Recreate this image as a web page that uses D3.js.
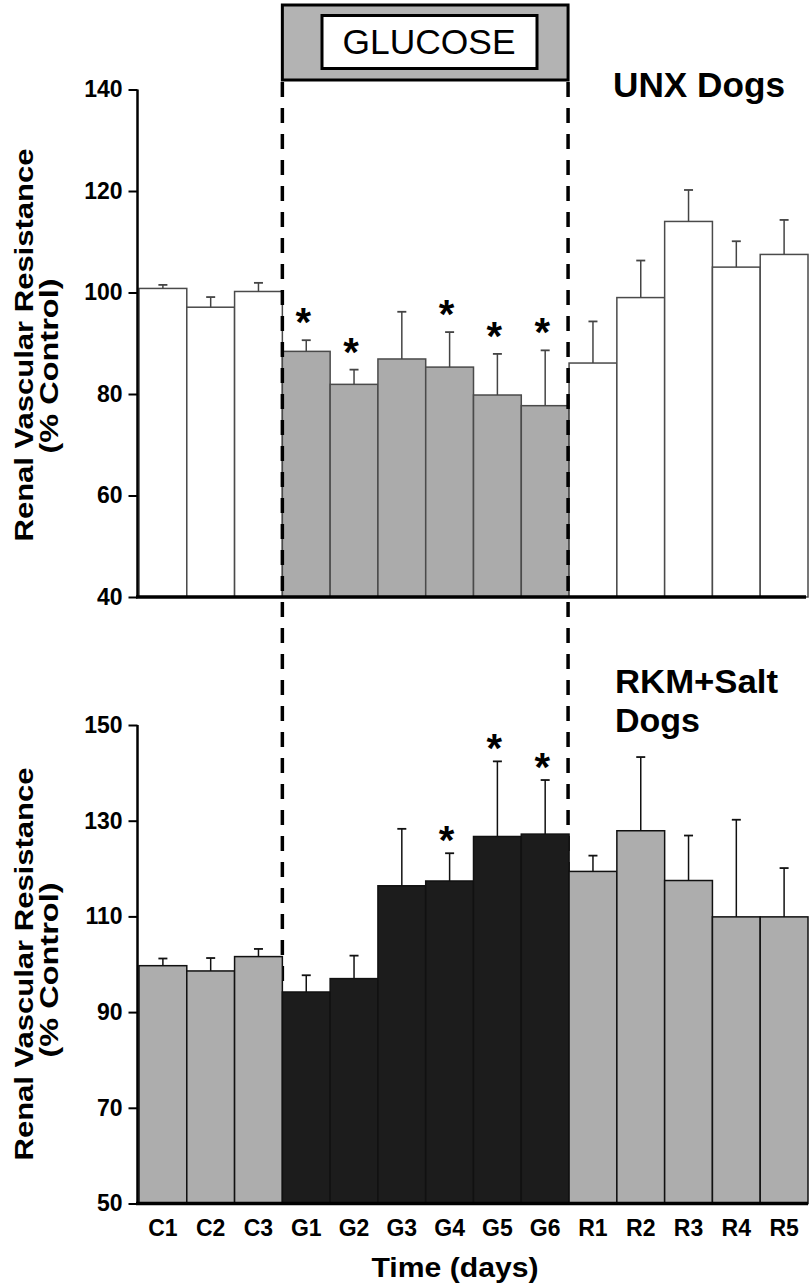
<!DOCTYPE html>
<html>
<head>
<meta charset="utf-8">
<script src="https://cdn.jsdelivr.net/npm/d3@7"></script>
<style>
  html, body { margin: 0; padding: 0; background: #fff; }
  svg { display: block; }
  text { font-family: "Liberation Sans", Arial, Helvetica, sans-serif; }
</style>
</head>
<body>
<svg id="chart" width="812" height="1285"></svg>
<script>
// ---------- data ----------
const categories = ["C1","C2","C3","G1","G2","G3","G4","G5","G6","R1","R2","R3","R4","R5"];
const glucoseDays = ["G1","G2","G3","G4","G5","G6"];

const unxMean = [100.8, 97.1, 100.2, 88.4, 81.9, 86.9, 85.3, 79.8, 77.7, 86.1, 99.0, 114.0, 105.0, 107.5];
const unxErr  = [0.7, 2.0, 1.7, 2.2, 2.9, 9.3, 6.9, 8.1, 10.9, 8.2, 7.3, 6.2, 5.1, 6.8];
const unxSig  = [0,0,0,1,1,0,1,1,1,0,0,0,0,0];

const rkmMean = [99.7, 98.6, 101.6, 94.2, 97.0, 116.4, 117.4, 126.7, 127.2, 119.4, 127.9, 117.5, 109.9, 109.9];
const rkmErr  = [1.5, 2.7, 1.6, 3.5, 4.8, 11.9, 5.8, 15.7, 11.3, 3.3, 15.4, 9.4, 20.3, 10.2];
const rkmSig  = [0,0,0,0,0,0,1,1,1,0,0,0,0,0];

const unxTicks = [40, 60, 80, 100, 120, 140];
const rkmTicks = [50, 70, 90, 110, 130, 150];

const yLabel1 = "Renal Vascular Resistance";
const yLabel2 = "(% Control)";
const xLabel = "Time (days)";
const boxLabel = "GLUCOSE";
const title1 = "UNX Dogs";
const title2a = "RKM+Salt";
const title2b = "Dogs";

// ---------- setup ----------
const svg = d3.select("#chart");
const FONT = '"Liberation Sans", Arial, Helvetica, sans-serif';

const x = d3.scaleBand().domain(categories).range([139, 808]).padding(0);
const yTop = d3.scaleLinear().domain([40, 140]).range([597, 89.5]);
const yBot = d3.scaleLinear().domain([50, 150]).range([1203.5, 725]);

function isG(c) { return glucoseDays.includes(c); }

const topRows = categories.map((c, i) => ({ c, m: unxMean[i], e: unxErr[i], s: unxSig[i] }));
const botRows = categories.map((c, i) => ({ c, m: rkmMean[i], e: rkmErr[i], s: rkmSig[i] }));

// ---------- top panel bars ----------
const gTop = svg.append("g");
gTop.selectAll("rect.bar").data(topRows).join("rect")
  .attr("x", d => x(d.c))
  .attr("y", d => yTop(d.m))
  .attr("width", x.bandwidth())
  .attr("height", d => yTop(40) - yTop(d.m))
  .attr("fill", d => isG(d.c) ? "#ababab" : "#ffffff")
  .attr("stroke", "#4a4a4a")
  .attr("stroke-width", 1.5);

function errBars(g, rows, y, color) {
  g.selectAll("line.err").data(rows).join("line")
    .attr("x1", d => x(d.c) + x.bandwidth() / 2)
    .attr("x2", d => x(d.c) + x.bandwidth() / 2)
    .attr("y1", d => y(d.m))
    .attr("y2", d => y(d.m + d.e))
    .attr("stroke", color).attr("stroke-width", 1.5);
  g.selectAll("line.cap").data(rows).join("line")
    .attr("x1", d => x(d.c) + x.bandwidth() / 2 - 4.5)
    .attr("x2", d => x(d.c) + x.bandwidth() / 2 + 4.5)
    .attr("y1", d => y(d.m + d.e))
    .attr("y2", d => y(d.m + d.e))
    .attr("stroke", color).attr("stroke-width", 1.8);
}
errBars(gTop.append("g"), topRows, yTop, "#444");

function stars(g, rows, y, off) {
  g.selectAll("text").data(rows.filter(d => d.s)).join("text")
    .attr("x", d => x(d.c) + x.bandwidth() / 2 - 3)
    .attr("y", d => y(d.m + d.e) - off + 23)
    .attr("text-anchor", "middle")
    .style("font-family", FONT)
    .style("font-weight", "bold")
    .style("font-size", "40px")
    .attr("fill", "#000")
    .text("*");
}
stars(gTop.append("g"), topRows, yTop, 27);

// ---------- top axes ----------
const axTop = svg.append("g").attr("transform", "translate(137.5,0)")
  .call(d3.axisLeft(yTop).tickValues(unxTicks).tickSize(9).tickPadding(6).tickFormat(d3.format("d")));
axTop.select(".domain").attr("stroke", "#000").attr("stroke-width", 2.5).attr("d", `M0,${yTop(140)}V${yTop(40)}`);
axTop.selectAll(".tick line").attr("stroke", "#000").attr("stroke-width", 2);
axTop.selectAll(".tick text").style("font-family", FONT).style("font-weight", "bold").style("font-size", "23px").attr("fill", "#000");

svg.append("line").attr("x1", 136).attr("x2", 806).attr("y1", yTop(40)).attr("y2", yTop(40))
  .attr("stroke", "#000").attr("stroke-width", 3.5);

// ---------- glucose box ----------
const gxL = x("G1"), gxR = x("R1");
svg.append("rect").attr("x", gxL).attr("y", 5).attr("width", gxR - gxL - 1).attr("height", 75)
  .attr("fill", "#b3b3b3").attr("stroke", "#000").attr("stroke-width", 3);
svg.append("rect").attr("x", 322).attr("y", 15.5).attr("width", 215).attr("height", 53)
  .attr("fill", "#fff").attr("stroke", "#000").attr("stroke-width", 3);
svg.append("text").attr("x", 429).attr("y", 53.5).attr("text-anchor", "middle")
  .style("font-family", FONT).style("font-size", "35px").attr("textLength", 173)
  .attr("lengthAdjust", "spacingAndGlyphs").text(boxLabel);

// ---------- dashed lines ----------
[gxL, gxR - 1].forEach(xx => {
  svg.append("line").attr("x1", xx).attr("x2", xx).attr("y1", 82).attr("y2", yBot(50))
    .attr("stroke", "#000").attr("stroke-width", 3.5).attr("stroke-dasharray", "15,11");
});

// ---------- bottom panel bars ----------
const gBot = svg.append("g");
gBot.selectAll("rect.bar").data(botRows).join("rect")
  .attr("x", d => x(d.c))
  .attr("y", d => yBot(d.m))
  .attr("width", x.bandwidth())
  .attr("height", d => yBot(50) - yBot(d.m))
  .attr("fill", d => isG(d.c) ? "#1c1c1c" : "#adadad")
  .attr("stroke", "#111")
  .attr("stroke-width", 1.5);
errBars(gBot.append("g"), botRows, yBot, "#111");
stars(gBot.append("g"), botRows, yBot, 22);

// ---------- bottom axes ----------
const axBot = svg.append("g").attr("transform", "translate(137.5,0)")
  .call(d3.axisLeft(yBot).tickValues(rkmTicks).tickSize(9).tickPadding(6).tickFormat(d3.format("d")));
axBot.select(".domain").attr("stroke", "#000").attr("stroke-width", 2.5).attr("d", `M0,${yBot(150)}V${yBot(50)}`);
axBot.selectAll(".tick line").attr("stroke", "#000").attr("stroke-width", 2);
axBot.selectAll(".tick text").style("font-family", FONT).style("font-weight", "bold").style("font-size", "23px").attr("fill", "#000");

const axX = svg.append("g").attr("transform", `translate(0,${yBot(50)})`)
  .call(d3.axisBottom(x).tickSize(0).tickPadding(16));
axX.select(".domain").attr("stroke", "#000").attr("stroke-width", 3.5).attr("d", "M136,0H808");
axX.selectAll(".tick text").style("font-family", FONT).style("font-weight", "bold").style("font-size", "23px").attr("fill", "#000");

// ---------- texts ----------
function yLab(cy1, cy2) {
  svg.append("text").attr("transform", `translate(33,${cy1}) rotate(-90)`).attr("text-anchor", "middle")
    .style("font-family", FONT).style("font-weight", "bold").style("font-size", "26px")
    .attr("textLength", 393).attr("lengthAdjust", "spacingAndGlyphs").text(yLabel1);
  svg.append("text").attr("transform", `translate(57.5,${cy2}) rotate(-90)`).attr("text-anchor", "middle")
    .style("font-family", FONT).style("font-weight", "bold").style("font-size", "26px")
    .attr("textLength", 175).attr("lengthAdjust", "spacingAndGlyphs").text(yLabel2);
}
yLab(345, 366);
yLab(964, 970);

svg.append("text").attr("x", 613).attr("y", 96.5)
  .style("font-family", FONT).style("font-weight", "bold").style("font-size", "35px")
  .attr("textLength", 172).attr("lengthAdjust", "spacingAndGlyphs").text(title1);
svg.append("text").attr("x", 615).attr("y", 693)
  .style("font-family", FONT).style("font-weight", "bold").style("font-size", "34px")
  .attr("textLength", 163).attr("lengthAdjust", "spacingAndGlyphs").text(title2a);
svg.append("text").attr("x", 615).attr("y", 732)
  .style("font-family", FONT).style("font-weight", "bold").style("font-size", "34px").text(title2b);

svg.append("text").attr("x", 455).attr("y", 1277).attr("text-anchor", "middle")
  .style("font-family", FONT).style("font-weight", "bold").style("font-size", "28px")
  .attr("textLength", 167).attr("lengthAdjust", "spacingAndGlyphs").text(xLabel);
</script>
</body>
</html>
